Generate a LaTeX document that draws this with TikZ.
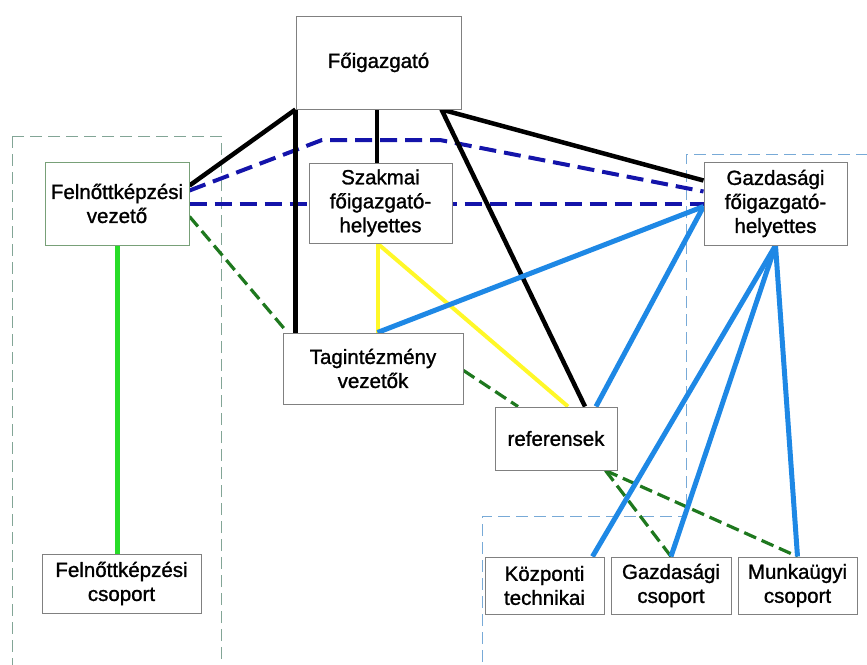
\documentclass[tikz,border=0pt]{standalone}
\usepackage{fontspec}
\setmainfont{Liberation Sans}
\usetikzlibrary{backgrounds}
\begin{document}
\begin{tikzpicture}[x=1pt,y=-1pt,
  box/.style={draw=boxgray,line width=1pt,fill=white,rectangle,align=center,
    inner sep=0pt,font=\fontsize{20.5}{24}\selectfont\addfontfeature{FakeBold=1.2}},
  blk/.style={draw=black,line width=4.5pt},
  bdash/.style={draw=dkblue,line width=4pt,dash pattern=on 17pt off 8pt},
  gdash/.style={draw=dkgreen,line width=3.2pt,dash pattern=on 13pt off 6pt},
  yel/.style={draw=yel,line width=4pt},
  blu/.style={draw=ltblue,line width=5pt},
  lgr/.style={draw=brgreen,line width=5pt},
  frameL/.style={draw=frameg,line width=1pt,dash pattern=on 12pt off 6pt},
  frameR/.style={draw=frameb,line width=1pt,dash pattern=on 12pt off 6pt}]
\definecolor{boxgray}{RGB}{128,128,128}
\definecolor{boxgreen}{RGB}{120,160,120}
\definecolor{dkblue}{RGB}{20,20,170}
\definecolor{dkgreen}{RGB}{30,120,30}
\definecolor{yel}{RGB}{255,248,40}
\definecolor{ltblue}{RGB}{30,136,229}
\definecolor{brgreen}{RGB}{40,220,40}
\definecolor{frameg}{RGB}{130,165,150}
\definecolor{frameb}{RGB}{120,170,215}

\path[use as bounding box] (0,0) rectangle (867,664);

% nodes
\node[box,minimum width=165pt,minimum height=93pt] (fo) at (378.5,62.5) {Főigazgató};
\node[box,draw=boxgreen,minimum width=144pt,minimum height=83pt] (fkv) at (117,203.5) {Felnőttképzési\\vezető};
\node[box,minimum width=143pt,minimum height=80pt] (szak) at (380.5,203) {Szakmai\\főigazgató-\\helyettes};
\node[box,minimum width=143pt,minimum height=83pt] (gfo) at (775.5,203.5) {Gazdasági\\főigazgató-\\helyettes};
\node[box,minimum width=180pt,minimum height=71pt] (tag) at (373,368.5) {Tagintézmény\\vezetők};
\node[box,minimum width=122pt,minimum height=63pt] (ref) at (556,438.5) {referensek};
\node[box,minimum width=159pt,minimum height=59pt] (fkcs) at (121.5,583.5) {Felnőttképzési\\csoport};
\node[box,minimum width=119pt,minimum height=57pt] (kt) at (544.5,585.5) {Központi\\technikai};
\node[box,minimum width=120pt,minimum height=57pt] (gcs) at (671,585.5) {Gazdasági\\csoport};
\node[box,minimum width=119pt,minimum height=57pt] (mcs) at (797.5,585.5) {Munkaügyi\\csoport};

\coordinate (b1) at (322,140);
\coordinate (b2) at (440,140);

\begin{pgfonlayer}{background}
% background frames
\begin{scope}
\clip (0,0) rectangle (867,664);
\draw[frameL] (12,136) rectangle (221,680);
\draw[frameR] (482,680) -- (482,516) -- (686,516) -- (686,154) -- (880,154);
\end{scope}
% connectors
\path[bdash] ([yshift=13pt]fkv.east) -- (b1) -- (b2) -- ([yshift=12pt]gfo.west);
\path[bdash] (fkv.east) -- (gfo.west);
\path[gdash] ([yshift=-13pt]fkv.east) -- ([xshift=5pt]tag.north west);
\path[gdash] ([yshift=-2pt]tag.east) -- ([xshift=-38pt]ref.north);
\path[gdash] ([xshift=-12pt]ref.south east) -- (gcs.north);
\path[gdash] ([xshift=-12pt]ref.south east) -- (mcs.north);
\path[blk] (fo.south west) -- ([yshift=18pt]fkv.east);
\path[blk] (fo.south west) -- (fo.south west |- tag.north);
\path[blk] ([xshift=-1.5pt]fo.south) -- ([xshift=-1.5pt]fo.south |- szak.north);
\path[blk] ([xshift=-20pt]fo.south east) -- ([yshift=23pt]gfo.west);
\path[blk] ([xshift=-20pt]fo.south east) -- ([xshift=29pt]ref.north);
\path[yel] ([xshift=-3pt]szak.south) -- ([xshift=4.5pt]tag.north);
\path[yel] ([xshift=-3pt]szak.south) -- ([xshift=12pt]ref.north);
\path[blu] ([xshift=4.5pt]tag.north) -- ([yshift=-3pt]gfo.west);
\path[blu] ([xshift=40pt]ref.north) -- ([yshift=-3pt]gfo.west);
\path[blu] (gfo.south) -- ([xshift=48pt]kt.north);
\path[blu] (gfo.south) -- (gcs.north);
\path[blu] (gfo.south) -- (mcs.north);
\path[lgr] (fkv.south) -- (fkv.south |- fkcs.north);
\end{pgfonlayer}
\end{tikzpicture}
\end{document}
